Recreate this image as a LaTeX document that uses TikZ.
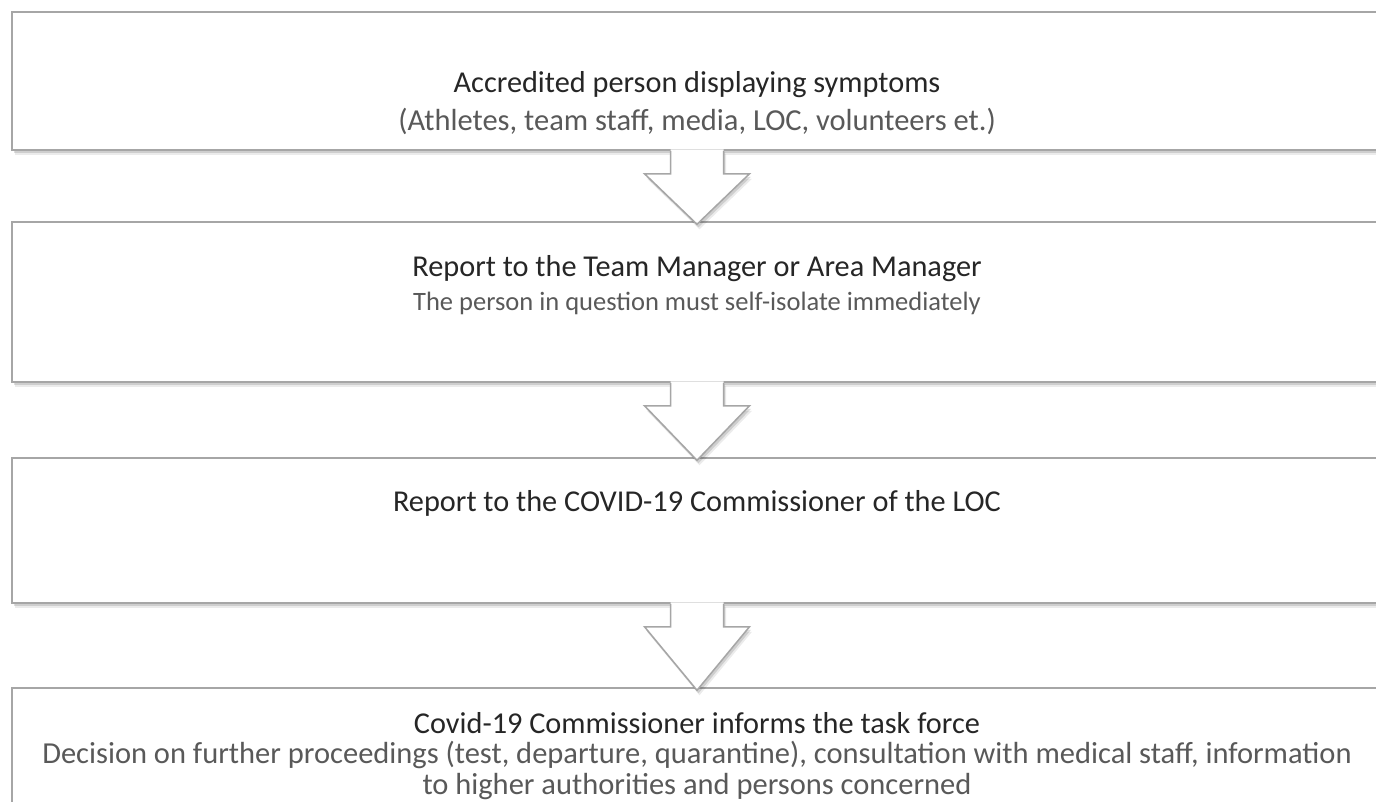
\documentclass[tikz,border=0pt]{standalone}
\usepackage{fontspec}
\setmainfont{Carlito}
\usetikzlibrary{shadows}
\definecolor{boxline}{HTML}{A6A6A6}
\definecolor{titlecol}{HTML}{262626}
\definecolor{subcol}{HTML}{595959}
\tikzset{
  x=1pt,y=-1pt,
  softshadow/.style={
    drop shadow={shadow xshift=2.5pt, shadow yshift=-5pt, opacity=0.08, fill=black},
    drop shadow={shadow xshift=1.5pt, shadow yshift=-3pt, opacity=0.18, fill=black!70}},
  flowbox/.style={draw=boxline, line width=1.5pt, fill=white, minimum width=1370pt, inner sep=0pt, softshadow},
  titletext/.style={font=\fontsize{30.3}{34}\selectfont, text=titlecol, inner sep=0pt},
  subtext/.style={font=\fontsize{26.5}{32}\selectfont, text=subcol, inner sep=0pt, align=center},
  bigsubtext/.style={font=\fontsize{30.5}{31}\selectfont, text=subcol, inner sep=0pt, align=center},
  arrowfill/.style={fill=white, draw=none, softshadow},
  arrowline/.style={draw=boxline, line width=1.5pt, line join=miter},
}
\begin{document}
\begin{tikzpicture}
\useasboundingbox (0,0) rectangle (1376,801);
\clip (0,0) rectangle (1376,801);
\fill[white] (0,0) rectangle (1376,801);
\node[flowbox, minimum height=138pt] (b1) at (697,81) {};
\node[flowbox, minimum height=160pt] (b2) at (697,302) {};
\node[flowbox, minimum height=145pt] (b3) at (697,530.5) {};
\node[flowbox, minimum height=150pt] (b4) at (697,763) {};
\node[titletext] (t1) at (697,85) {Accredited person displaying symptoms};
\node[bigsubtext] (s1) at (697,121) {(Athletes, team staff, media, LOC, volunteers et.)};
\node[titletext] (t2) at (697,269) {Report to the Team Manager or Area Manager};
\node[subtext] (s2) at (697,303) {The person in question must self-isolate immediately};
\node[titletext] (t3) at (697,503) {Report to the COVID-19 Commissioner of the LOC};
\node[titletext] (t4) at (697,723) {Covid-19 Commissioner informs the task force};
\node[bigsubtext] (s4) at (697,770.5) {Decision on further proceedings (test, departure, quarantine), consultation with medical staff, information\\to higher authorities and persons concerned};
% arrows
\foreach \a/\b in {b1/b2, b2/b3, b3/b4}{
  \path[arrowfill] ([xshift=-26.5pt,yshift=1.5pt]\a.south) -- ++(0,24.5) -- ++(-26,0) -- ([yshift=-3pt]\b.north) -- ([xshift=52.5pt,yshift=-23pt]\a.south) -- ++(-26,0) -- ([xshift=26.5pt,yshift=1.5pt]\a.south) -- cycle;
  \draw[arrowline] ([xshift=-26.5pt]\a.south) -- ++(0,23) -- ++(-26,0) -- ([yshift=-3pt]\b.north) -- ([xshift=52.5pt,yshift=-23pt]\a.south) -- ++(-26,0) -- ([xshift=26.5pt]\a.south);
}
\end{tikzpicture}
\end{document}
